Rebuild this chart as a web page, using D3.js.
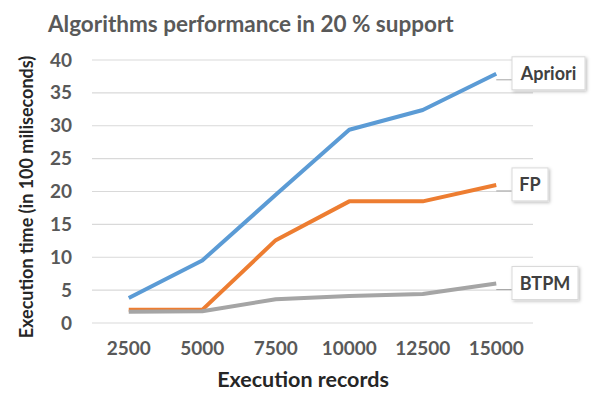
<!DOCTYPE html>
<html>
<head>
<meta charset="utf-8">
<script src="https://cdn.jsdelivr.net/npm/d3@7"></script>
<style>
  body { margin: 0; background: #fff; }
  text { font-family: Lato, "Open Sans", sans-serif; font-weight: bold; }
</style>
</head>
<body>
<svg id="chart" width="600" height="394"></svg>
<script>
// chart data
const records = ["2500", "5000", "7500", "10000", "12500", "15000"];
const apriori = [3.8, 9.5, 19.5, 29.4, 32.4, 37.9];
const fp      = [2.0, 2.0, 12.6, 18.5, 18.5, 21.0];
const btpm    = [1.7, 1.8, 3.6, 4.1, 4.4, 6.0];
const yTicks  = [0, 5, 10, 15, 20, 25, 30, 35, 40];
const seriesNames  = ["Apriori", "FP", "BTPM"];
const seriesColors = ["#5b9bd5", "#ed7d31", "#a5a5a5"];

const svg = d3.select("#chart");
const plotL = 92, plotR = 533, plotT = 60, plotB = 323;

const x = d3.scaleBand().domain(records).range([plotL, plotR]);
const y = d3.scaleLinear().domain([0, 40]).range([plotB, plotT]);

// title
svg.append("text").attr("x", 48).attr("y", 32)
  .attr("font-size", 22.5).attr("fill", "#595959")
  .text("Algorithms performance in 20 % support");

// gridlines
svg.append("g").selectAll("line").data(yTicks).enter().append("line")
  .attr("x1", plotL).attr("x2", plotR)
  .attr("y1", d => y(d)).attr("y2", d => y(d))
  .attr("stroke", "#d9d9d9").attr("stroke-width", 1.2);

// y axis
const yAxis = svg.append("g").attr("transform", "translate(" + plotL + ",0)")
  .call(d3.axisLeft(y).tickValues(yTicks).tickSize(0).tickPadding(20));
yAxis.select(".domain").remove();
yAxis.selectAll("text").attr("font-size", 19).attr("fill", "#595959")
  .attr("font-family", "Lato, sans-serif").attr("font-weight", "bold");

// x axis
const xAxis = svg.append("g").attr("transform", "translate(0," + plotB + ")")
  .call(d3.axisBottom(x).tickSize(0).tickPadding(19));
xAxis.select(".domain").remove();
xAxis.selectAll("text").attr("font-size", 19).attr("fill", "#595959")
  .attr("font-family", "Lato, sans-serif").attr("font-weight", "bold");

// axis titles
svg.append("text").attr("x", 303).attr("y", 387).attr("text-anchor", "middle")
  .attr("font-size", 21.5).attr("fill", "#262626").text("Execution records");
svg.append("text").attr("transform", "translate(33,197) rotate(-90)")
  .attr("text-anchor", "middle").attr("font-size", 18).attr("fill", "#262626")
  .text("Execution time (in 100 miliseconds)");

// series lines
const line = d3.line()
  .x((d, i) => x(records[i]) + x.bandwidth() / 2)
  .y(d => y(d));
const allSeries = [apriori, fp, btpm];
svg.append("g").selectAll("path").data(allSeries).enter().append("path")
  .attr("d", d => line(d))
  .attr("fill", "none")
  .attr("stroke", (d, i) => seriesColors[i])
  .attr("stroke-width", 4)
  .attr("stroke-linejoin", "round");

// data labels at series end
const boxW = [73, 36, 66];
const lastX = x(records[records.length - 1]) + x.bandwidth() / 2;
const defs = svg.append("defs");
const f = defs.append("filter").attr("id", "shadow").attr("x", "-20%").attr("y", "-20%")
  .attr("width", "150%").attr("height", "150%");
f.append("feDropShadow").attr("dx", 1.5).attr("dy", 1.5).attr("stdDeviation", 1.5)
  .attr("flood-color", "#000").attr("flood-opacity", 0.25);

allSeries.forEach((s, i) => {
  const cy = y(s[s.length - 1]);
  const g = svg.append("g");
  g.append("line").attr("x1", lastX).attr("x2", 516)
    .attr("y1", cy + 6).attr("y2", cy + 6)
    .attr("stroke", "#a6a6a6").attr("stroke-width", 1);
  g.append("rect").attr("x", 512).attr("y", cy - 17)
    .attr("width", boxW[i]).attr("height", 33)
    .attr("fill", "#fff").attr("stroke", "#d9d9d9").attr("filter", "url(#shadow)");
  g.append("text").attr("x", 512 + boxW[i] / 2).attr("y", cy + 6)
    .attr("text-anchor", "middle").attr("font-size", 18).attr("fill", "#404040")
    .text(seriesNames[i]);
});
</script>
</body>
</html>
